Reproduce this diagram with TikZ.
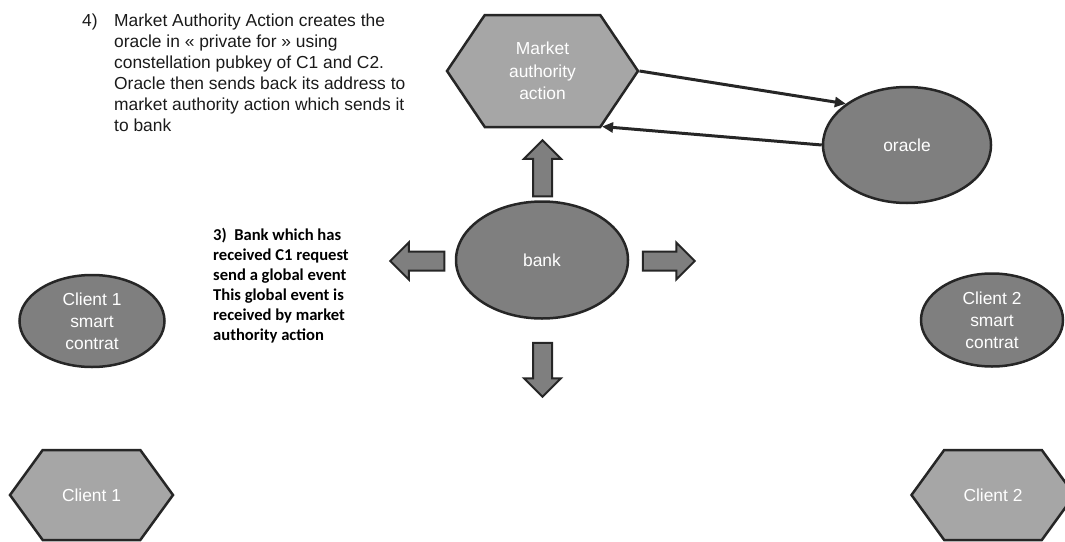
\documentclass[tikz,border=0pt]{standalone}
\usepackage{fontspec}
\setmainfont{Liberation Sans}
\newfontfamily\calibri{Carlito}
\usepackage{xcolor}
\usetikzlibrary{positioning,shapes.geometric,shapes.symbols,shapes.arrows,arrows.meta}
\definecolor{hexgray}{HTML}{A6A6A6}
\definecolor{ovalgray}{HTML}{7F7F7F}
\definecolor{edgegray}{HTML}{262626}
\definecolor{notegray}{HTML}{1A1A1A}

\begin{document}
\begin{tikzpicture}[x=1pt,y=-1pt,
  hexbox/.style={signal, signal to=east and west, signal from=nowhere,
    draw=edgegray, line width=2.5pt, fill=hexgray, text=white, inner sep=0pt,
    align=center, font=\fontsize{17.4}{22.5}\selectfont},
  ovalbox/.style={ellipse, draw=edgegray, line width=2.5pt, fill=ovalgray,
    text=white, inner sep=0pt, align=center,
    font=\fontsize{17.4}{22}\selectfont},
  blockarrow/.style={single arrow, draw=edgegray, line width=2pt, fill=ovalgray,
    inner xsep=0pt, inner ysep=8.5pt, single arrow head extend=9pt,
    single arrow head indent=0pt},
  conn/.style={draw=edgegray, line width=3pt, -{Triangle[length=11pt,width=10pt]}}]
  \useasboundingbox (0,0) rectangle (1065,541);
  \clip (0,0) rectangle (1065,541);

  % Notes
  \node[anchor=north west, inner sep=0pt, text=notegray,
    font=\fontsize{17.4}{21}\selectfont] (note4) at (82,11.5)
    {\begin{tabular}{@{}p{32pt}@{}l@{}}
      4) & Market Authority Action creates the\\
         & oracle in « private for » using\\
         & constellation pubkey of C1 and C2.\\
         & Oracle then sends back its address to\\
         & market authority action which sends it\\
         & to bank
    \end{tabular}};
  \node[anchor=north west, inner sep=0pt, text=black,
    font=\calibri\bfseries\fontsize{16.6}{20}\selectfont] (note3) at (213,226)
    {\begin{tabular}{@{}l@{}}
      3)\ \ Bank which has\\
      received C1 request\\
      send a global event\\
      This global event is\\
      received by market\\
      authority action
    \end{tabular}};

  % Market side
  \node[hexbox, minimum width=191pt, minimum height=112pt,
    signal pointer angle=112] (market) at (542.5,71) {Market\\authority\\action};
  \node[ovalbox, minimum width=168pt, minimum height=116pt] (oracle) at (907,145) {oracle};
  \draw[conn] (market.east) -- (oracle.146);
  \draw[conn] (oracle.west) -- (market.-43);

  % Bank and its events
  \node[ovalbox, minimum width=172pt, minimum height=117pt] (bank) at (542,260) {bank};
  \node[blockarrow, rotate=90, minimum height=56pt] (evup) at (542.5,173) {};
  \node[blockarrow, rotate=-90, minimum height=54pt] (evdown) at (542.5,365) {};
  \node[blockarrow, rotate=180, minimum height=54pt] (evleft) at (422,261) {};
  \node[blockarrow, minimum height=52pt] (evright) at (664,261) {};

  % Clients
  \node[ovalbox, minimum width=145pt, minimum height=92pt] (sc1) at (92,321) {Client 1\\smart\\contrat};
  \node[ovalbox, minimum width=142pt, minimum height=93pt] (sc2) at (992,320) {Client 2\\smart\\contrat};
  \node[hexbox, minimum width=163pt, minimum height=90pt,
    signal pointer angle=108] (client1) at (91.5,495) {Client 1};
  \node[hexbox, minimum width=163pt, minimum height=90pt,
    signal pointer angle=108] (client2) at (993,495) {Client 2};
\end{tikzpicture}
\end{document}
